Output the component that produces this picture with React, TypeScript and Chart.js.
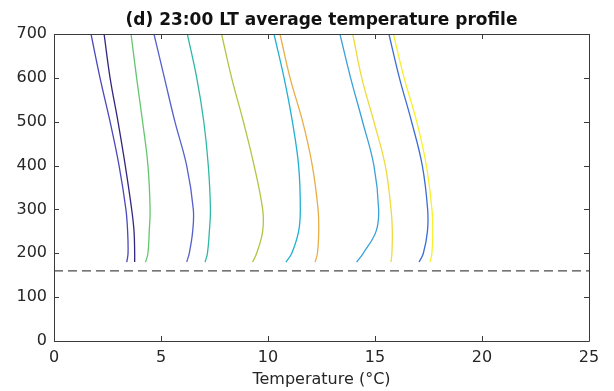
import React, { useEffect, useRef } from "react";
import { Chart, registerables } from "chart.js";

Chart.register(...registerables);

const heights = [180, 200, 250, 300, 400, 500, 600, 700];

const profile1 = [3.40, 3.46, 3.44, 3.36, 3.04, 2.62, 2.15, 1.73];
const profile2 = [3.77, 3.77, 3.74, 3.63, 3.33, 2.99, 2.62, 2.34];
const profile3 = [4.28, 4.39, 4.45, 4.49, 4.39, 4.14, 3.86, 3.60];
const profile4 = [6.20, 6.32, 6.48, 6.51, 6.20, 5.65, 5.16, 4.67];
const profile5 = [7.06, 7.17, 7.26, 7.31, 7.21, 7.00, 6.67, 6.23];
const profile6 = [9.28, 9.47, 9.75, 9.75, 9.35, 8.85, 8.30, 7.83];
const profile7 = [10.84, 11.11, 11.43, 11.51, 11.43, 11.14, 10.75, 10.28];
const profile8 = [12.20, 12.31, 12.37, 12.34, 12.07, 11.62, 11.03, 10.56];
const profile9 = [14.14, 14.45, 15.05, 15.17, 14.95, 14.42, 13.86, 13.36];
const profile10 = [15.75, 15.79, 15.81, 15.75, 15.48, 14.95, 14.38, 13.96];
const profile11 = [17.06, 17.26, 17.45, 17.46, 17.21, 16.71, 16.14, 15.65];
const profile12 = [17.57, 17.66, 17.70, 17.66, 17.40, 16.95, 16.36, 15.86];

const profiles = [
  profile1, profile2, profile3, profile4, profile5, profile6,
  profile7, profile8, profile9, profile10, profile11, profile12,
];

const profileColors = [
  "#4a48bc", "#33267f", "#66c66e", "#5560cc", "#30b8a6", "#b2c544",
  "#22b0d2", "#eaae44", "#3aa0da", "#eedc3c", "#3c6cd4", "#f8f02c",
];

const refLineX = [0, 25];
const refLineY = [160, 160];

const xTicks = [0, 5, 10, 15, 20, 25];
const yTicks = [0, 100, 200, 300, 400, 500, 600, 700];

const titleText = "(d) 23:00 LT average temperature profile";
const xTitleText = "Temperature (°C)";

const AXIS_COLOR = "#3a3a3a";
const TEXT_COLOR = "#262626";
const FONT = "'DejaVu Sans', 'Noto Sans', sans-serif";

const boxPlugin = {
  id: "matlabBox",
  afterDatasetsDraw(chart: any) {
    const { ctx, chartArea, scales } = chart;
    const { left, right, top, bottom } = chartArea;
    const tl = 5;
    ctx.save();
    ctx.strokeStyle = AXIS_COLOR;
    ctx.lineWidth = 1;
    ctx.beginPath();
    for (const v of xTicks) {
      const px = Math.round(scales.x.getPixelForValue(v)) + 0.5;
      ctx.moveTo(px, bottom);
      ctx.lineTo(px, bottom - tl);
      ctx.moveTo(px, top);
      ctx.lineTo(px, top + tl);
    }
    for (const v of yTicks) {
      const py = Math.round(scales.y.getPixelForValue(v)) + 0.5;
      ctx.moveTo(left, py);
      ctx.lineTo(left + tl, py);
      ctx.moveTo(right, py);
      ctx.lineTo(right - tl, py);
    }
    ctx.stroke();
    ctx.beginPath();
    ctx.rect(Math.round(left) + 0.5, Math.round(top) + 0.5, Math.round(right - left), Math.round(bottom - top));
    ctx.stroke();
    ctx.restore();
  },
};

export default function App() {
  const canvasRef = useRef<HTMLCanvasElement | null>(null);

  useEffect(() => {
    if (!canvasRef.current) return;
    const datasets: any[] = profiles.map((p, i) => ({
      label: "profile " + (i + 1),
      data: p.map((t, j) => ({ x: t, y: heights[j] })),
      borderColor: profileColors[i],
      backgroundColor: profileColors[i],
      borderWidth: 1.3,
      pointRadius: 0,
      showLine: true,
      tension: 0.4,
      fill: false,
    }));
    datasets.push({
      label: "reference",
      data: refLineX.map((x, j) => ({ x, y: refLineY[j] })),
      borderColor: "#4a4a4a",
      borderWidth: 1.2,
      borderDash: [9, 5],
      pointRadius: 0,
      showLine: true,
      tension: 0,
      fill: false,
    });

    const chart = new Chart(canvasRef.current, {
      type: "scatter",
      data: { datasets },
      options: {
        responsive: false,
        animation: false,
        layout: { padding: { left: 0, right: 25, top: 0, bottom: 0 } },
        plugins: {
          legend: { display: false },
          tooltip: { enabled: false },
          title: {
            display: true,
            fullSize: false,
            text: titleText,
            color: "#111111",
            font: { family: FONT, size: 17, weight: "bold" },
            padding: { top: 10, bottom: 3.6 },
          },
        },
        scales: {
          x: {
            type: "linear",
            min: 0,
            max: 25,
            afterBuildTicks(scale: any) {
              scale.ticks = xTicks.map((v) => ({ value: v }));
            },
            afterFit(scale: any) {
              scale.height = 50;
            },
            grid: { display: false, drawTicks: false },
            border: { display: false },
            ticks: {
              color: TEXT_COLOR,
              font: { family: FONT, size: 16 },
              padding: 7,
              maxRotation: 0,
            },
            title: {
              display: true,
              text: xTitleText,
              color: TEXT_COLOR,
              font: { family: FONT, size: 16 },
              padding: { top: 0, bottom: 2 },
            },
          },
          y: {
            type: "linear",
            min: 0,
            max: 700,
            afterBuildTicks(scale: any) {
              scale.ticks = yTicks.map((v) => ({ value: v }));
            },
            afterFit(scale: any) {
              scale.width = 54;
            },
            grid: { display: false, drawTicks: false },
            border: { display: false },
            ticks: {
              color: TEXT_COLOR,
              font: { family: FONT, size: 16 },
              padding: 7,
            },
          },
        },
      },
      plugins: [boxPlugin],
    } as any);

    return () => chart.destroy();
  }, []);

  return (
    <div style={{ position: "fixed", left: 0, top: 0, width: 614, height: 391, background: "#ffffff" }}>
      <canvas ref={canvasRef} width={614} height={391} style={{ display: "block" }} />
    </div>
  );
}
